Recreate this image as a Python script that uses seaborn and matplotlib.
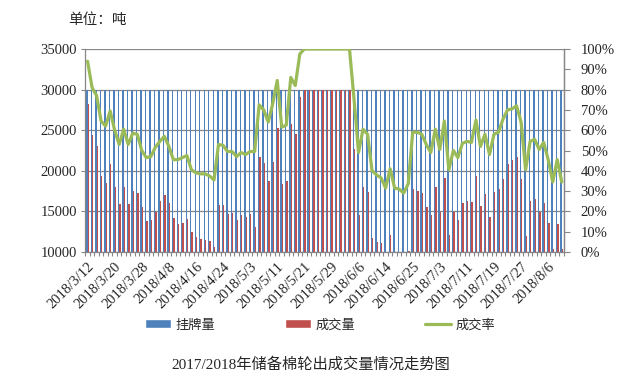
import matplotlib
matplotlib.use("Agg")  # headless rendering
import matplotlib.pyplot as plt
import seaborn as sns
import pandas as pd
import numpy as np
from matplotlib.patches import Patch
from matplotlib.lines import Line2D
from matplotlib.ticker import FuncFormatter

# trading days: weekdays minus holidays, plus weekend make-up days
HOLIDAYS = ["2018-04-05", "2018-04-06", "2018-04-30", "2018-05-01", "2018-06-18"]
EXTRA_WORKDAYS = ["2018-04-08", "2018-04-28"]
days = (pd.bdate_range("2018-03-12", "2018-08-09")
        .drop(pd.to_datetime(HOLIDAYS))
        .union(pd.to_datetime(EXTRA_WORKDAYS)))
dates = [f"{d.year}/{d.month}/{d.day}" for d in days]
N = len(dates)

listed = [30000] * N  # 挂牌量, tons

deal = [  # 成交量, tons
    28200, 24400, 23000, 19300, 18550, 20800, 18050, 15850, 18050, 15950,
    17550, 17300, 15600, 13850, 13950, 14950, 16300, 17050, 16050, 14200,
    13450, 13600, 14100, 12500, 11850, 11600, 11500, 11350, 10600, 15800,
    15800, 14700, 14850, 13950, 14600, 14350, 14700, 13100, 21650, 20900,
    18800, 21050, 25250, 18400, 18750, 25750, 24500, 29100, 30000, 30000,
    30000, 30000, 30000, 30000, 30000, 30000, 30000, 30000, 30000, 22650,
    14600, 18050, 17450, 11750, 11250, 11100, 9450, 12100, 9450, 9300,
    8650, 10100, 17700, 17550, 17300, 15600, 14600, 18050, 14950, 19150,
    12100, 14950, 13950, 16050, 16300, 16200, 19400, 15700, 17200, 14350,
    17450, 17700, 19050, 20800, 21300, 21650, 19050, 12000, 16300, 16550,
    14950, 16050, 13600, 10350, 13450, 10350,
]

rate = [  # 成交率, %
    94, 81, 77, 64.5, 62, 69.5, 60, 53, 60.5, 53,
    58.5, 58, 50, 46.5, 47, 51.5, 54.5, 57, 52, 45.5,
    45.5, 46.5, 47.5, 40.5, 39, 38.5, 38.5, 37.5, 35.5, 53,
    52.5, 49.5, 49.5, 47, 49, 48, 49.5, 49.5, 72.5, 70,
    64, 73, 84.5, 61.5, 62.5, 86, 82, 97.5, 100, 100,
    100, 100, 100, 100, 100, 100, 100, 100, 100, 75.5,
    49, 60.5, 58, 40, 38, 36.5, 31.5, 41, 31.5, 31,
    29, 33.5, 59, 59, 58, 53, 49, 60.5, 50.5, 64.5,
    40.5, 50, 46.5, 53.5, 54.5, 54, 65, 52, 58, 48,
    58, 59, 65.5, 70, 70.5, 72, 64, 40.5, 54.5, 55.5,
    50.5, 54, 45.5, 34.5, 45.5, 34.5,
]

SERIES = ["挂牌量", "成交量", "成交率"]
BLUE, RED, GREEN = "#4F81BD", "#C0504D", "#9BBB59"
GRID = "#868686"
SERIF_CJK = ["Liberation Serif", "Noto Sans CJK SC"]

sns.set_theme(style="white")
plt.rcParams["font.family"] = SERIF_CJK

df = pd.DataFrame({
    "date": dates * 2,
    "series": [SERIES[0]] * N + [SERIES[1]] * N,
    "tons": listed + deal,
})

W, H = 619, 381
fig = plt.figure(figsize=(W / 100, H / 100), dpi=100)
ax = fig.add_axes([85.3 / W, 1 - 252 / H, (564 - 85.3) / W, (252 - 49) / H])

sns.barplot(data=df, x="date", y="tons", hue="series", order=dates,
            palette=[BLUE, RED], width=0.6, saturation=1, errorbar=None,
            legend=False, ax=ax, linewidth=0, edgecolor="none",
            antialiased=False)
ax.set_xlim(-0.5, N - 0.5)
ax.set_ylim(10000, 35000)
ax.set_yticks(range(10000, 35001, 5000))
ax.set_xlabel("")
ax.set_ylabel("")
ax.yaxis.grid(True, color=GRID, lw=0.9)
ax.set_axisbelow(True)

ax.set_xticks(np.arange(0, N, 6))
ax.set_xticklabels(dates[::6], rotation=45, ha="right", rotation_mode="anchor")
ax.set_xticks(np.arange(N + 1) - 0.5, minor=True)
ax.tick_params(axis="x", which="major", length=0, pad=6, labelsize=10.5)
ax.tick_params(axis="x", which="minor", length=3, width=0.8, color=GRID, direction="out")
ax.tick_params(axis="y", length=3, width=0.8, color=GRID, pad=3, labelsize=10.5)
ax.xaxis.set_ticks_position("bottom")
ax.yaxis.set_ticks_position("left")
for side in ["left", "bottom", "right"]:
    ax.spines[side].set_color(GRID)
    ax.spines[side].set_linewidth(0.9)
ax.spines["top"].set_visible(False)

ax2 = ax.twinx()
sns.lineplot(x=np.arange(N), y=np.array(rate) / 100, color=GREEN, lw=2.3,
             ax=ax2, sort=False)
ax2.set_ylim(0, 1)
ax2.set_yticks(np.arange(0, 1.01, 0.1))
ax2.yaxis.set_major_formatter(FuncFormatter(lambda v, _: f"{v * 100:.0f}%"))
ax2.tick_params(axis="y", length=4, width=0.8, color=GRID, pad=8, labelsize=10.5)
ax2.set_ylabel("")
for side in ["top", "left", "bottom"]:
    ax2.spines[side].set_visible(False)
ax2.spines["right"].set_color(GRID)
ax2.spines["right"].set_linewidth(0.9)
ax2.set_xlim(-0.5, N - 0.5)

handles = [Patch(facecolor=BLUE), Patch(facecolor=RED),
           Line2D([], [], color=GREEN, lw=2.3)]
fig.legend(handles, SERIES, loc="center", bbox_to_anchor=(320 / W, 1 - 325 / H),
           ncol=3, frameon=False, handlelength=2.0, handleheight=0.65,
           handletextpad=0.3, columnspacing=5.3,
           prop={"family": ["Noto Sans CJK SC"], "size": 9.5})

fig.text(68 / W, 1 - 20 / H, "单位：吨", ha="left", va="center",
         family=["Noto Sans CJK SC"], fontsize=10.5)
fig.text(311 / W, 1 - 364 / H, "2017/2018年储备棉轮出成交量情况走势图",
         ha="center", va="center", family=SERIF_CJK, fontsize=11)

fig.savefig("out.png", dpi=100)
plt.close(fig)
